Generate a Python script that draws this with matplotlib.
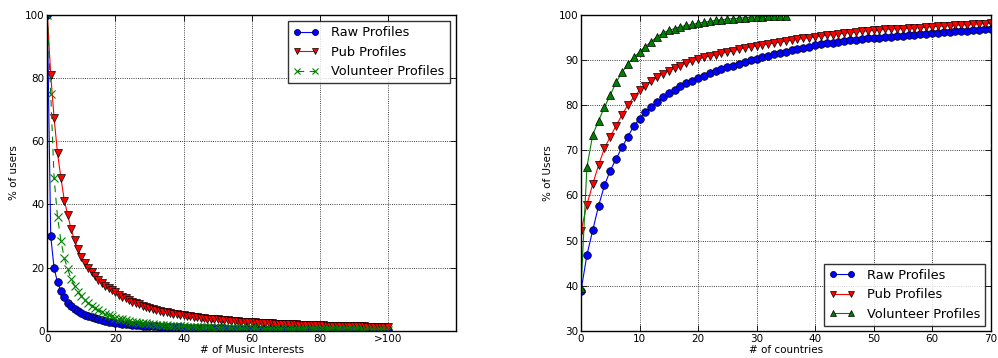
import numpy as np
import matplotlib
matplotlib.use('Agg')
import matplotlib.pyplot as plt

# Left panel: % of users vs number of music interests (0..100, last = ">100")
interests = np.arange(0, 101)
raw_music = [100, 30, 19.8, 15.4, 12.6, 10.6, 9.0, 7.9, 7.0, 6.3, 5.7,
             5.2, 4.7, 4.3, 4.0, 3.7, 3.4, 3.2, 3.0, 2.8, 2.6,
             2.45, 2.3, 2.2, 2.1, 2.0, 1.9, 1.8, 1.72, 1.65, 1.58,
             1.52, 1.46, 1.4, 1.35, 1.3, 1.26, 1.22, 1.18, 1.14, 1.1,
             1.07, 1.04, 1.01, 0.98, 0.95, 0.92, 0.9, 0.88, 0.86, 0.84,
             0.82, 0.8, 0.78, 0.76, 0.74, 0.72, 0.7, 0.69, 0.68, 0.66,
             0.65, 0.64, 0.62, 0.61, 0.6, 0.59, 0.58, 0.57, 0.56, 0.55,
             0.54, 0.53, 0.52, 0.51, 0.5, 0.49, 0.48, 0.47, 0.46, 0.45,
             0.44, 0.43, 0.42, 0.41, 0.4, 0.4, 0.39, 0.38, 0.37, 0.36,
             0.36, 0.35, 0.34, 0.34, 0.33, 0.32, 0.32, 0.31, 0.3, 0.3]
pub_music = [100, 81, 67.2, 56.2, 48.3, 41.2, 36.7, 32.1, 28.6, 25.8, 23.5,
             21.6, 20.0, 18.5, 17.3, 16.2, 15.2, 14.3, 13.5, 12.8, 12.2,
             11.5, 10.9, 10.3, 9.8, 9.3, 8.8, 8.4, 8.0, 7.6, 7.2,
             6.9, 6.6, 6.3, 6.1, 5.9, 5.7, 5.5, 5.3, 5.1, 4.9,
             4.75, 4.6, 4.45, 4.3, 4.2, 4.1, 3.95, 3.85, 3.75, 3.65,
             3.55, 3.45, 3.35, 3.25, 3.15, 3.05, 2.98, 2.9, 2.83, 2.76,
             2.7, 2.64, 2.58, 2.52, 2.46, 2.4, 2.35, 2.3, 2.25, 2.2,
             2.15, 2.1, 2.06, 2.02, 1.98, 1.94, 1.9, 1.86, 1.82, 1.78,
             1.75, 1.72, 1.69, 1.66, 1.63, 1.6, 1.57, 1.54, 1.52, 1.5,
             1.48, 1.46, 1.44, 1.42, 1.4, 1.38, 1.36, 1.34, 1.32, 1.3]
vol_music = [100, 75, 48.3, 36, 28.5, 23, 19.5, 16.4, 14.2, 12.4, 11.0,
             9.8, 8.8, 8.0, 7.2, 6.6, 6.0, 5.5, 5.0, 4.6, 4.2,
             3.9, 3.65, 3.4, 3.2, 3.0, 2.8, 2.65, 2.5, 2.38, 2.26,
             2.15, 2.05, 1.96, 1.88, 1.8, 1.72, 1.65, 1.58, 1.52, 1.46,
             1.41, 1.36, 1.31, 1.27, 1.23, 1.19, 1.15, 1.12, 1.09, 1.06,
             1.03, 1.0, 0.97, 0.95, 0.93, 0.91, 0.89, 0.87, 0.85, 0.83,
             0.81, 0.79, 0.77, 0.76, 0.74, 0.73, 0.71, 0.7, 0.69, 0.67,
             0.66, 0.65, 0.64, 0.63, 0.62, 0.61, 0.6, 0.59, 0.58, 0.57,
             0.56, 0.55, 0.54, 0.53, 0.53, 0.52, 0.51, 0.5, 0.5, 0.49,
             0.48, 0.48, 0.47, 0.46, 0.46, 0.45, 0.45, 0.44, 0.44, 0.43]
music_ticks = [0, 20, 40, 60, 80, 100]
music_ticklabels = ['0', '20', '40', '60', '80', '>100']

# Right panel: cumulative % of users vs number of countries
countries = np.arange(0, 71)
raw_country = [38.9, 46.8, 52.3, 57.7, 62.2, 65.5, 68.1, 70.6, 73.0, 75.3, 77.0,
               78.5, 79.6, 80.7, 81.7, 82.6, 83.4, 84.1, 84.8, 85.4, 86.0,
               86.5, 87.0, 87.5, 87.9, 88.3, 88.7, 89.1, 89.5, 89.9, 90.2,
               90.5, 90.9, 91.2, 91.5, 91.8, 92.1, 92.4, 92.6, 92.9, 93.2,
               93.4, 93.6, 93.8, 94.0, 94.1, 94.3, 94.4, 94.6, 94.7, 94.8,
               94.9, 95.0, 95.1, 95.2, 95.3, 95.4, 95.5, 95.6, 95.7, 95.9,
               96.0, 96.1, 96.2, 96.3, 96.35, 96.4, 96.5, 96.6, 96.7, 96.8]
pub_country = [52.1, 57.9, 62.5, 66.7, 70.4, 73.0, 75.4, 77.8, 80.0, 81.7, 83.2,
               84.3, 85.2, 86.1, 86.9, 87.6, 88.1, 88.7, 89.2, 89.7, 90.2,
               90.5, 90.8, 91.1, 91.4, 91.7, 92.0, 92.3, 92.6, 92.9, 93.1,
               93.3, 93.5, 93.7, 93.9, 94.1, 94.3, 94.5, 94.7, 94.9, 95.1,
               95.25, 95.4, 95.55, 95.7, 95.85, 96.0, 96.1, 96.25, 96.4, 96.55,
               96.6, 96.7, 96.8, 96.85, 96.9, 97.0, 97.05, 97.1, 97.2, 97.3,
               97.4, 97.45, 97.5, 97.6, 97.7, 97.75, 97.8, 97.9, 98.0, 98.1]
vol_countries = np.arange(0, 36)
vol_country = [39.5, 66.2, 73.4, 76.5, 79.5, 82.2, 85.0, 87.2, 89.1, 90.5, 91.7,
               92.9, 94.0, 95.1, 95.9, 96.5, 96.9, 97.3, 97.6, 97.8, 98.1,
               98.3, 98.5, 98.7, 98.85, 99.0, 99.1, 99.2, 99.3, 99.4, 99.5,
               99.55, 99.6, 99.65, 99.7, 99.75]

plt.rcParams['font.family'] = 'DejaVu Sans'
plt.rcParams['font.size'] = 7.5
plt.rcParams['xtick.direction'] = 'in'
plt.rcParams['ytick.direction'] = 'in'
plt.rcParams['xtick.top'] = True
plt.rcParams['ytick.right'] = True

fig = plt.figure(figsize=(9.98, 3.58), dpi=100)
ax1 = fig.add_axes([0.0474, 0.0754, 0.4095, 0.884])
ax2 = fig.add_axes([0.5822, 0.0754, 0.4103, 0.884])

ms = 5.5
lw = 0.8
ax1.plot(interests, raw_music, 'b-o', ms=ms, lw=lw, mec='k', mew=0.5, label='Raw Profiles')
ax1.plot(interests, pub_music, 'r-v', ms=ms, lw=lw, mec='k', mew=0.5, label='Pub Profiles')
ax1.plot(interests, vol_music, 'g--x', ms=ms, lw=lw, mec='g', mew=0.8, dashes=(6, 5),
         label='Volunteer Profiles')
ax1.set_xlim(0, 120)
ax1.set_ylim(0, 100)
ax1.set_xticks(music_ticks)
ax1.set_xticklabels(music_ticklabels)
ax1.set_yticks([0, 20, 40, 60, 80, 100])
ax1.set_xlabel('# of Music Interests', labelpad=1)
ax1.set_ylabel('% of users', labelpad=4)
ax1.grid(True, ls=':', color='k', lw=0.6)
leg1 = ax1.legend(loc='upper right', numpoints=2, fontsize=9.3, fancybox=False,
                  borderaxespad=0.5, handlelength=2.0, handletextpad=0.9, markerscale=0.8)
leg1.get_frame().set_edgecolor('k')

ax2.plot(countries, raw_country, 'b-o', ms=ms, lw=lw, mec='k', mew=0.5, label='Raw Profiles')
ax2.plot(countries, pub_country, 'r-v', ms=ms, lw=lw, mec='k', mew=0.5, label='Pub Profiles')
ax2.plot(vol_countries, vol_country, 'g-^', ms=ms, lw=lw, mec='k', mew=0.5, label='Volunteer Profiles')
ax2.set_xlim(0, 70)
ax2.set_ylim(30, 100)
ax2.set_xticks(range(0, 71, 10))
ax2.set_yticks(range(30, 101, 10))
ax2.set_xlabel('# of countries', labelpad=1)
ax2.set_ylabel('% of Users', labelpad=4)
ax2.grid(True, ls=':', color='k', lw=0.6)
leg2 = ax2.legend(loc='lower right', numpoints=2, fontsize=9.3, fancybox=False,
                  borderaxespad=0.4, handlelength=2.0, handletextpad=0.9, markerscale=0.8)
leg2.get_frame().set_edgecolor('k')

for ax in (ax1, ax2):
    ax.tick_params(length=4, width=0.6, pad=2)
    for s in ax.spines.values():
        s.set_linewidth(1.0)

fig.savefig('out.png', dpi=100)
